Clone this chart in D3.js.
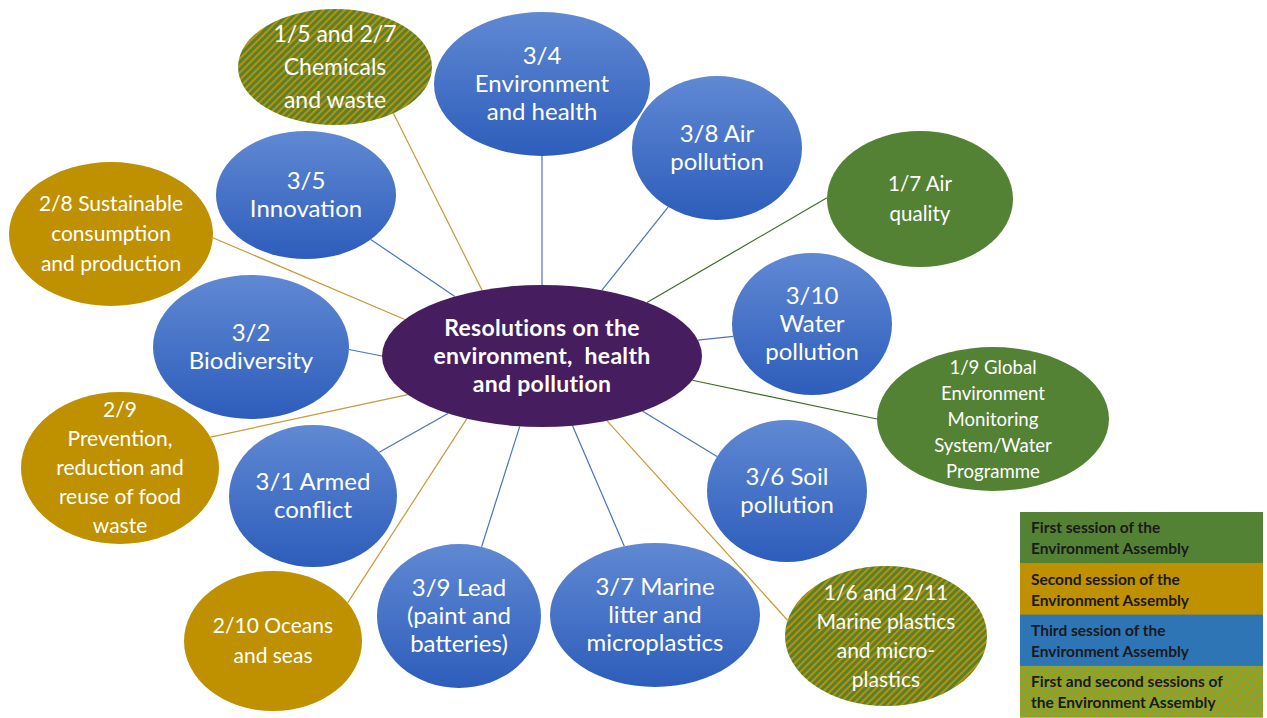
<!DOCTYPE html>
<html>
<head>
<meta charset="utf-8">
<script src="https://cdn.jsdelivr.net/npm/d3@7"></script>
<style>
  body { margin: 0; background: #fff; }
  svg { display: block; font-family: Lato, "Open Sans", sans-serif; }
</style>
</head>
<body>
<svg id="chart" width="1267" height="718"></svg>
<script>
// resolutions around the hub, with the session(s) they came from
var resolutionLabels = [
  ["1/5 and 2/7", "Chemicals", "and waste"],
  ["3/4", "Environment", "and health"],
  ["3/8 Air", "pollution"],
  ["1/7 Air", "quality"],
  ["3/5", "Innovation"],
  ["2/8 Sustainable", "consumption", "and production"],
  ["3/2", "Biodiversity"],
  ["3/10", "Water", "pollution"],
  ["1/9 Global", "Environment", "Monitoring", "System/Water", "Programme"],
  ["2/9", "Prevention,", "reduction and", "reuse of food", "waste"],
  ["3/1 Armed", "conflict"],
  ["3/6 Soil", "pollution"],
  ["2/10 Oceans", "and seas"],
  ["3/9 Lead", "(paint and", "batteries)"],
  ["3/7 Marine", "litter and", "microplastics"],
  ["1/6 and 2/11", "Marine plastics", "and micro-", "plastics"]
];
var resolutionSessions = ["1+2", "3", "3", "1", "3", "2", "3", "3", "1", "2", "3", "3", "2", "3", "3", "1+2"];

var hubLabel = ["Resolutions on the", "environment,  health", "and pollution"];

var sessionKeys = ["1", "2", "3", "1+2"];
var sessionNames = [
  ["First session of the", "Environment Assembly"],
  ["Second session of the", "Environment Assembly"],
  ["Third session of the", "Environment Assembly"],
  ["First and second sessions of", "the Environment Assembly"]
];

// layout of the bubbles (centre, radii, text size, line anchors in degrees)
var hub = { cx: 542, cy: 356, rx: 160, ry: 71 };
var layout = [
  { cx: 335, cy: 67,  rx: 97,  ry: 58, fs: 23,   lh: 33, a: 53,   b: -112 },
  { cx: 542, cy: 84,  rx: 108, ry: 72, fs: 24,   lh: 28, a: 90,   b: -90 },
  { cx: 717, cy: 148, rx: 85,  ry: 72, fs: 24,   lh: 28, a: 125,  b: -68 },
  { cx: 920, cy: 199, rx: 93,  ry: 68, fs: 20.5, lh: 30, a: 181,  b: -49 },
  { cx: 306, cy: 195, rx: 90,  ry: 64, fs: 24,   lh: 28, a: 44,   b: -123 },
  { cx: 111, cy: 234, rx: 102, ry: 72, fs: 21,   lh: 30, a: 3,    b: -149 },
  { cx: 251, cy: 347, rx: 98,  ry: 72, fs: 24,   lh: 28, a: 2,    b: 180 },
  { cx: 812, cy: 324, rx: 80,  ry: 71, fs: 24,   lh: 28, a: 170,  b: -13 },
  { cx: 993, cy: 419, rx: 116, ry: 72, fs: 18.6, lh: 26, a: 180,  b: 20 },
  { cx: 120, cy: 468, rx: 99,  ry: 76, fs: 21,   lh: 29, a: -24,  b: 147 },
  { cx: 313, cy: 496, rx: 84,  ry: 71, fs: 24,   lh: 28, a: -38,  b: 126 },
  { cx: 787, cy: 491, rx: 80,  ry: 71, fs: 24,   lh: 28, a: -151, b: 51 },
  { cx: 273, cy: 641, rx: 89,  ry: 70, fs: 21,   lh: 30, a: -33,  b: 118 },
  { cx: 459, cy: 616, rx: 82,  ry: 72, fs: 24,   lh: 28, a: -74,  b: 98 },
  { cx: 655, cy: 615, rx: 105, ry: 72, fs: 24,   lh: 28, a: -107, b: 79 },
  { cx: 886, cy: 636, rx: 101, ry: 70, fs: 21,   lh: 29, a: -167, b: 66 }
];

var svg = d3.select("#chart");
var defs = svg.append("defs");

var grad = defs.append("linearGradient").attr("id", "blueGrad")
  .attr("x1", 0).attr("y1", 0).attr("x2", 0).attr("y2", 1);
grad.append("stop").attr("offset", "0%").attr("stop-color", "#6089d3");
grad.append("stop").attr("offset", "100%").attr("stop-color", "#2d5dbb");

function hatch(id, base) {
  var p = defs.append("pattern").attr("id", id)
    .attr("patternUnits", "userSpaceOnUse")
    .attr("width", 5).attr("height", 5)
    .attr("patternTransform", "rotate(45)");
  p.append("rect").attr("width", 5).attr("height", 5).attr("fill", base);
  p.append("rect").attr("width", 2).attr("height", 5).attr("fill", "#bf9000");
}
hatch("hatch", "#548235");
hatch("hatchLight", "#70ad47");

var fill = d3.scaleOrdinal().domain(sessionKeys)
  .range(["#548235", "#bf9000", "url(#blueGrad)", "url(#hatch)"]);
var stroke = d3.scaleOrdinal().domain(sessionKeys)
  .range(["#3f6a26", "#c89a38", "#4a72c0", "#c89a38"]);
var legendFill = d3.scaleOrdinal().domain(sessionKeys)
  .range(["#548235", "#bf9000", "#2e75b6", "url(#hatchLight)"]);

var nodes = resolutionLabels.map(function (lines, i) {
  return Object.assign({ lines: lines, session: resolutionSessions[i] }, layout[i]);
});

function onEllipse(e, deg) {
  var t = deg * Math.PI / 180;
  return [e.cx + e.rx * Math.cos(t), e.cy + e.ry * Math.sin(t)];
}

// connectors
svg.append("g").selectAll("line")
  .data(nodes)
  .enter().append("line")
  .attr("x1", function (d) { return onEllipse(d, d.a)[0]; })
  .attr("y1", function (d) { return onEllipse(d, d.a)[1]; })
  .attr("x2", function (d) { return onEllipse(hub, d.b)[0]; })
  .attr("y2", function (d) { return onEllipse(hub, d.b)[1]; })
  .attr("stroke", function (d) { return stroke(d.session); })
  .attr("stroke-width", 1.2);

// bubbles
var g = svg.append("g").selectAll("g.node")
  .data(nodes)
  .enter().append("g").attr("class", "node");

g.append("ellipse")
  .attr("cx", function (d) { return d.cx; })
  .attr("cy", function (d) { return d.cy; })
  .attr("rx", function (d) { return d.rx; })
  .attr("ry", function (d) { return d.ry; })
  .attr("fill", function (d) { return fill(d.session); });

g.each(function (d) {
  var n = d.lines.length;
  d3.select(this).selectAll("text")
    .data(d.lines)
    .enter().append("text")
    .attr("x", d.cx)
    .attr("y", function (l, j) { return d.cy + (j - (n - 1) / 2) * d.lh; })
    .attr("dy", "0.35em")
    .attr("text-anchor", "middle")
    .attr("fill", "#fff")
    .style("font-size", d.fs + "px")
    .text(function (l) { return l; });
});

// hub
svg.append("ellipse")
  .attr("cx", hub.cx).attr("cy", hub.cy)
  .attr("rx", hub.rx).attr("ry", hub.ry)
  .attr("fill", "#461e5f");

svg.append("g").selectAll("text")
  .data(hubLabel)
  .enter().append("text")
  .attr("x", hub.cx)
  .attr("y", function (l, j) { return hub.cy + (j - 1) * 28; })
  .attr("dy", "0.35em")
  .attr("text-anchor", "middle")
  .attr("fill", "#fff")
  .style("font-size", "23px")
  .style("font-weight", "bold")
  .style("letter-spacing", "0.3px")
  .style("white-space", "pre")
  .text(function (l) { return l; });

// legend
var lx = 1020, ly = 512, lw = 243, lhRow = 51.3;
var leg = svg.append("g").selectAll("g")
  .data(sessionKeys)
  .enter().append("g")
  .attr("transform", function (d, i) { return "translate(" + lx + "," + (ly + i * lhRow) + ")"; });

leg.append("rect")
  .attr("width", lw).attr("height", lhRow + 0.5)
  .attr("fill", function (d) { return legendFill(d); });

leg.each(function (d, i) {
  d3.select(this).selectAll("text")
    .data(sessionNames[i])
    .enter().append("text")
    .attr("x", 11)
    .attr("y", function (l, j) { return 16 + j * 21; })
    .attr("dy", "0.35em")
    .attr("fill", "#1a1a1a")
    .style("font-size", "15.5px")
    .style("font-weight", "bold")
    .text(function (l) { return l; });
});
</script>
</body>
</html>
